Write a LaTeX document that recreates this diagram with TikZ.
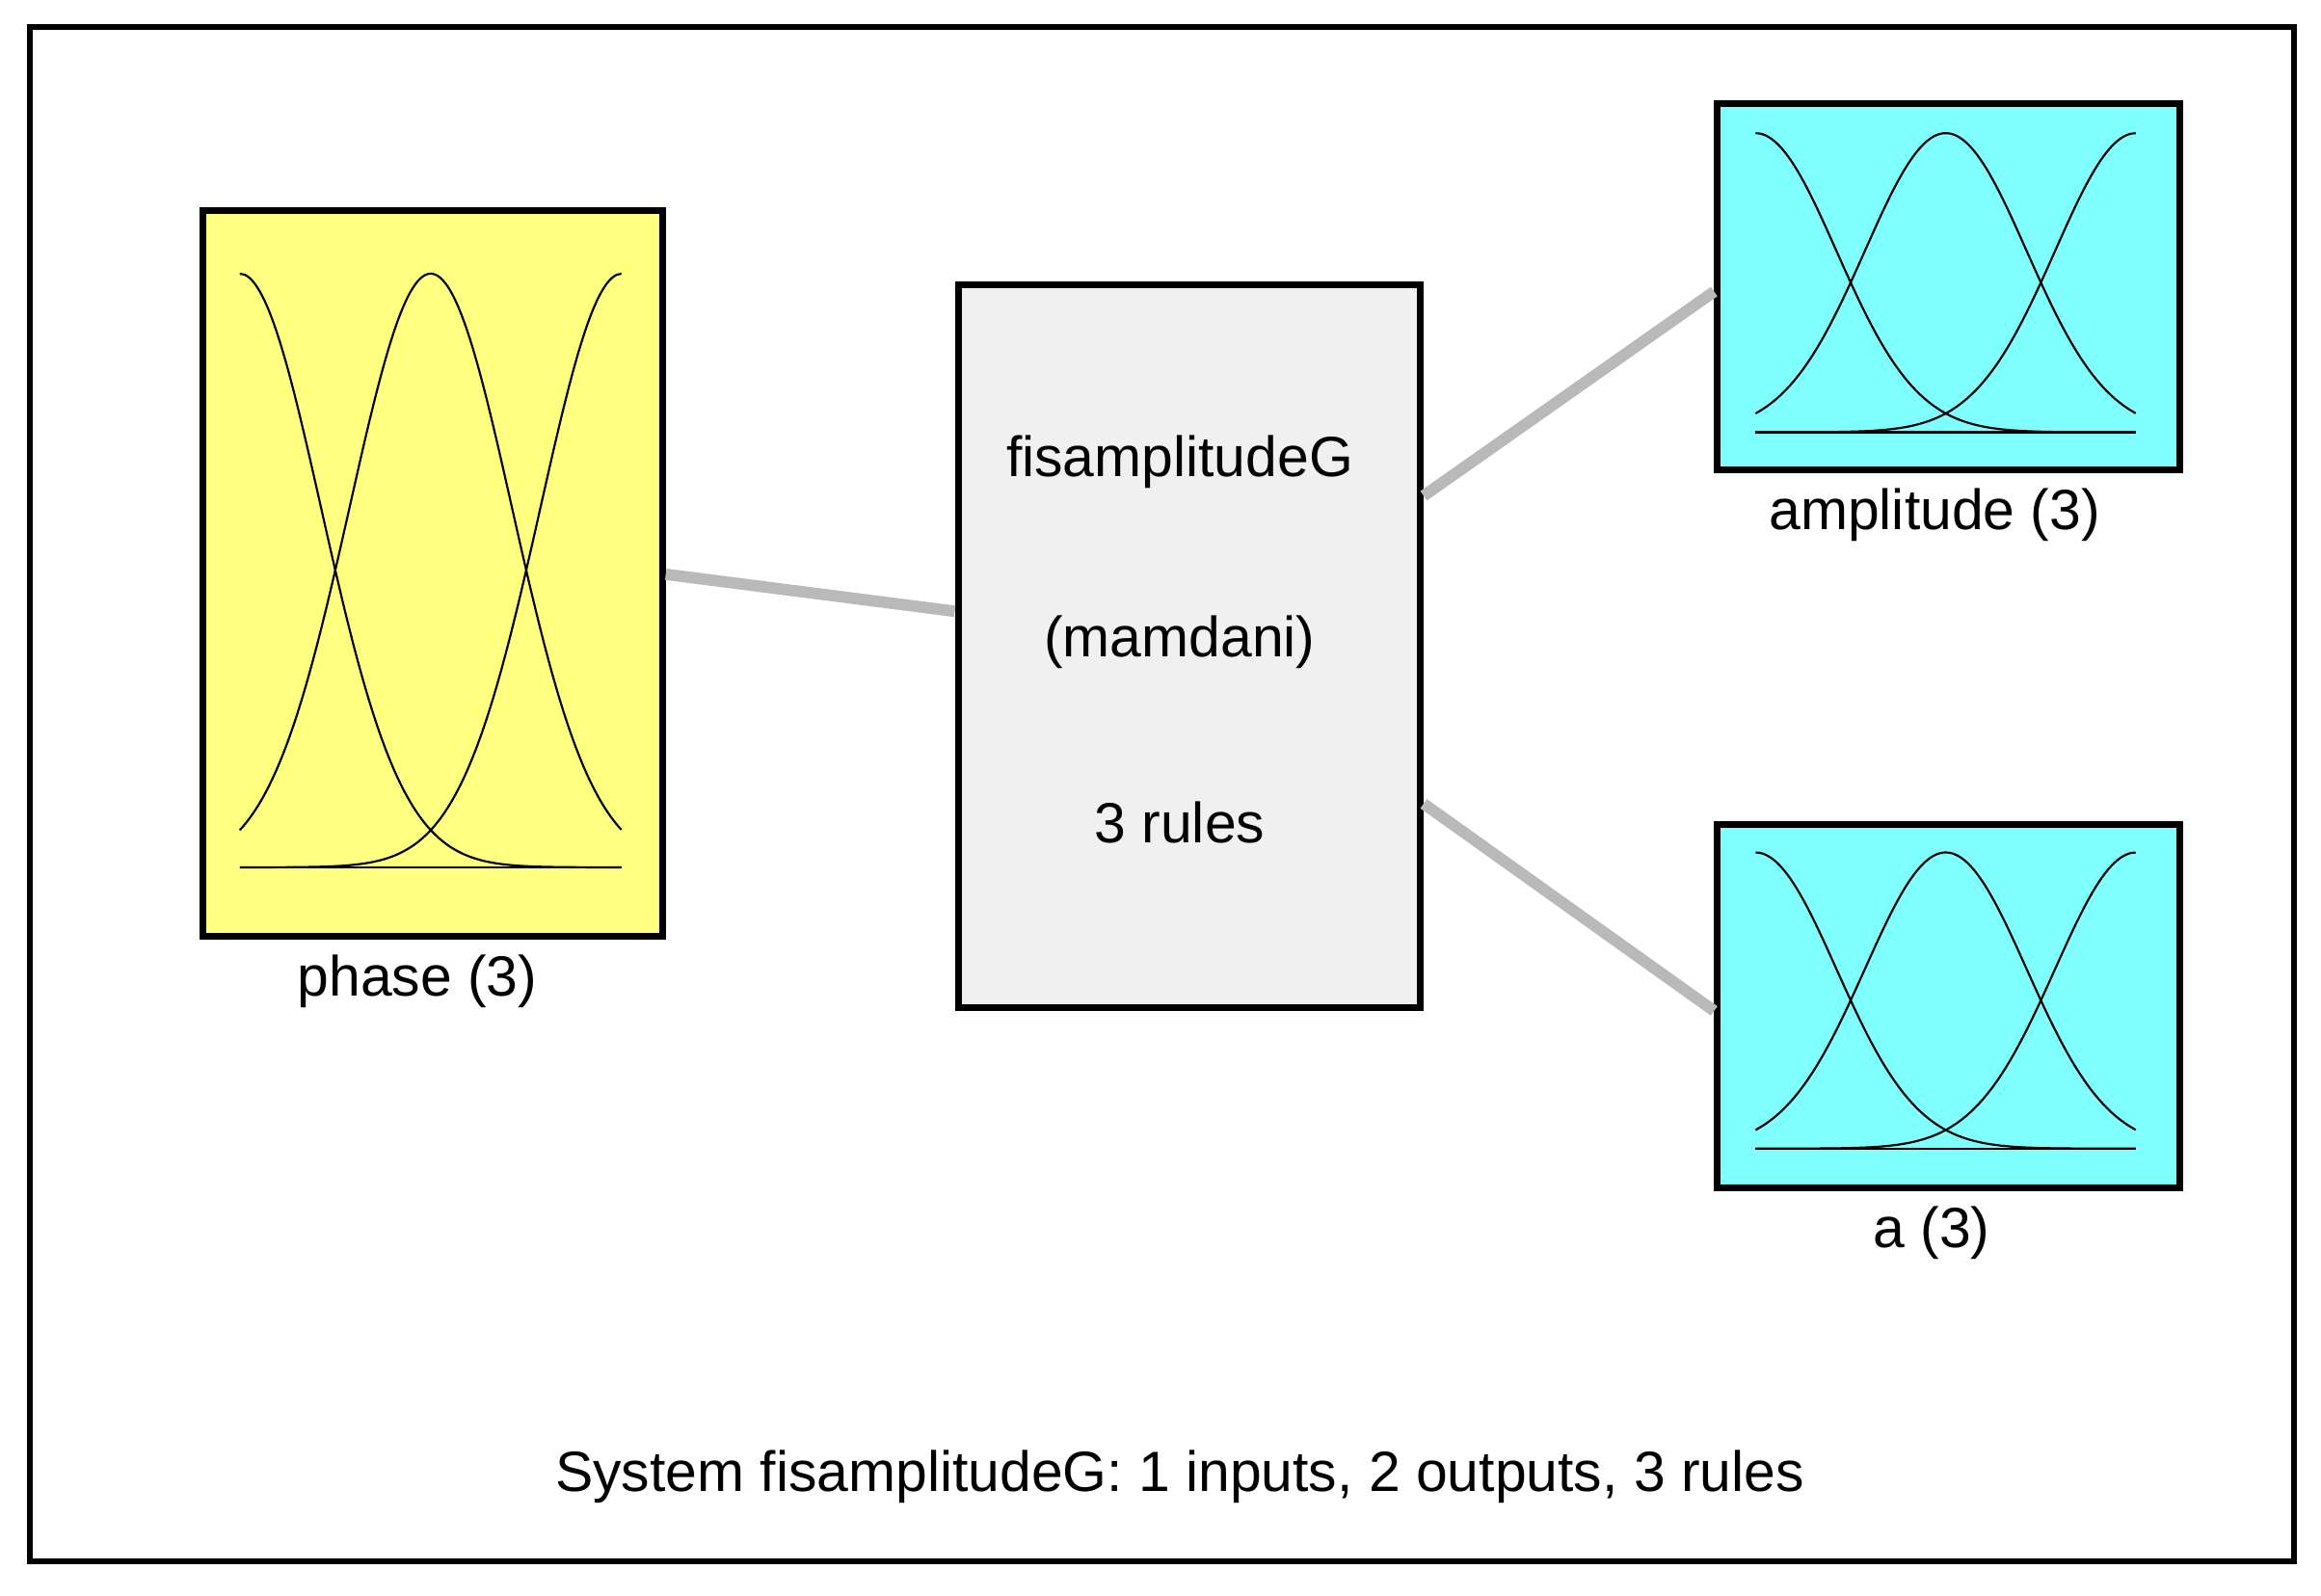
\documentclass[tikz,border=0pt]{standalone}
\usepackage{fontspec}
\setmainfont{Liberation Sans}
\usepackage{tikz}
\usetikzlibrary{positioning}

\definecolor{inyellow}{RGB}{255,255,128}
\definecolor{outcyan}{RGB}{128,255,255}
\definecolor{fisgray}{RGB}{240,240,240}

% three membership functions between x=#1 and x=#2, baseline #3, top #4
\newcommand{\mfcurves}[4]{%
  \foreach \c in {0,0.5,1}
    \draw[thin] plot[domain=0:1, samples=80, smooth]
      ({#1+\x*(#2-#1)}, {#3-(#3-#4)*exp(-((\x-\c)^2)/(2*0.2125^2))});
  \draw[thin] (#1,#3) -- (#2,#3);
}

\begin{document}
\begin{tikzpicture}[x=0.01cm,y=-0.01cm,font=\fontsize{10.9}{13}\selectfont]
  \tikzset{box/.style={draw=black,line width=1.3pt,anchor=north west,inner sep=0pt},
           link/.style={draw=gray!55,line width=2.2pt}}
  \useasboundingbox (0,0) rectangle (1568,1078);
  \draw[line width=1.1pt] (20,18) rectangle (1550,1055);

  \node[box, fill=inyellow, minimum width=3.1cm, minimum height=4.9cm] (phase) at (135,140) {};
  \node[box, fill=fisgray, minimum width=3.12cm, minimum height=4.88cm] (fis) at (645,190) {};
  \node[box, fill=outcyan, minimum width=3.12cm, minimum height=2.47cm] (amp) at (1158,68) {};
  \node[box, fill=outcyan, minimum width=3.12cm, minimum height=2.45cm] (aout) at (1158,555) {};

  \node (phaselbl) at (282,663) {phase (3)};
  \node (amplbl) at (1307,348) {amplitude (3)};
  \node (albl) at (1305,833) {a (3)};
  \node (fisname) at (797,312) {fisamplitudeG};
  \node (fistype) at (797,434) {(mamdani)};
  \node (fisrules) at (797,556) {3 rules};
  \node (summary) at (797,998) {System fisamplitudeG: 1 inputs, 2 outputs, 3 rules};

  \draw[link] (phase.east |- 0,388) -- (fis.west |- 0,413);
  \draw[link] (fis.east |- 0,335) -- (amp.west |- 0,197);
  \draw[link] (fis.east |- 0,543) -- (aout.west |- 0,683);

  \mfcurves{162}{420}{586}{185}
  \mfcurves{1186}{1443}{292}{90}
  \mfcurves{1186}{1443}{776}{576}
\end{tikzpicture}
\end{document}
